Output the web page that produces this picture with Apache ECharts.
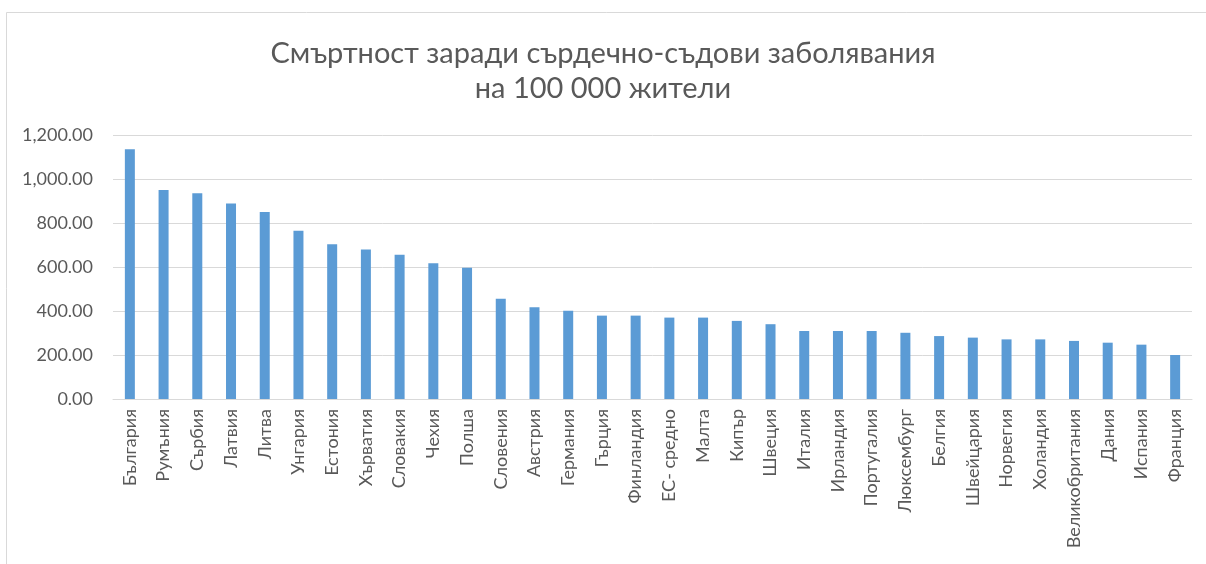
<!DOCTYPE html>
<html>
<head>
<meta charset="utf-8">
<script src="https://cdn.jsdelivr.net/npm/echarts@6/dist/echarts.min.js"></script>
<style>
    html, body { margin: 0; padding: 0; background: #fff; }
    #chart { width: 1206px; height: 564px; }
</style>
</head>
<body>
<div id="chart"></div>
<script>
    // държави, подредени по смъртност
    const countries = ["България", "Румъния", "Сърбия", "Латвия", "Литва", "Унгария", "Естония", "Хърватия",
        "Словакия", "Чехия", "Полша", "Словения", "Австрия", "Германия", "Гърция", "Финландия", "ЕС- средно",
        "Малта", "Кипър", "Швеция", "Италия", "Ирландия", "Португалия", "Люксембург", "Белгия", "Швейцария",
        "Норвегия", "Холандия", "Великобритания", "Дания", "Испания", "Франция"];
    const deaths = [1135, 950, 935, 889, 850, 765, 703, 680, 656, 617, 597, 456, 417, 401, 379, 379, 370,
        370, 355, 340, 309, 309, 309, 301, 286, 279, 271, 271, 264, 256, 247, 200];
    const yTicks = { min: 0, max: 1200, step: 200 };
    const titleLines = ["Смъртност заради сърдечно-съдови заболявания", "на 100 000 жители"];

    const myChart = echarts.init(document.getElementById("chart"));

    const fmt = v => v.toLocaleString("en-US", { minimumFractionDigits: 2, maximumFractionDigits: 2 });

    let option = {
        backgroundColor: "#fff",
        animation: false,
        textStyle: { fontFamily: "Lato, 'Noto Sans', sans-serif" },
        graphic: [{
            type: "rect",
            silent: true,
            shape: { x: 6.5, y: 12.5, width: 1300, height: 700 },
            style: { fill: "none", stroke: "#d9d9d9", lineWidth: 1 }
        }],
        title: {
            text: titleLines.join("\n"),
            left: "center",
            top: 31,
            textStyle: {
                color: "#595959",
                fontSize: 29,
                fontWeight: "normal",
                lineHeight: 35
            }
        },
        grid: {
            left: 113,
            right: 14,
            top: 135,
            bottom: 165,
            containLabel: false
        },
        xAxis: {
            type: "category",
            data: countries,
            axisLine: { lineStyle: { color: "#d9d9d9" } },
            axisTick: { show: false },
            axisLabel: {
                interval: 0,
                rotate: 90,
                margin: 10,
                color: "#595959",
                fontSize: 18
            }
        },
        yAxis: {
            type: "value",
            min: yTicks.min,
            max: yTicks.max,
            interval: yTicks.step,
            axisLine: { show: false },
            axisTick: { show: false },
            splitLine: { lineStyle: { color: "#d9d9d9" } },
            axisLabel: {
                color: "#595959",
                fontSize: 18,
                margin: 20,
                formatter: fmt
            }
        },
        series: [{
            type: "bar",
            data: deaths,
            barWidth: 10,
            itemStyle: { color: "#5B9BD5" }
        }]
    };
    myChart.setOption(option);
    window.addEventListener("resize", () => myChart.resize(), false);
</script>
</body>
</html>
